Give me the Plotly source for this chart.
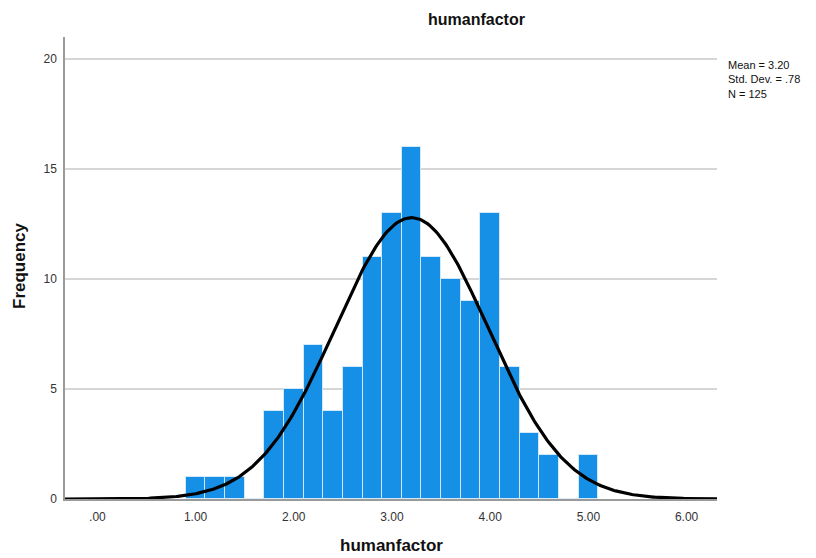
import numpy as np
import plotly.graph_objects as go

# Data
bin_centers = [1.0, 1.2, 1.4, 1.6, 1.8, 2.0, 2.2, 2.4, 2.6, 2.8, 3.0, 3.2, 3.4, 3.6, 3.8, 4.0, 4.2, 4.4, 4.6, 4.8, 5.0]
frequencies = [1, 1, 1, 0, 4, 5, 7, 4, 6, 11, 13, 16, 11, 10, 9, 13, 6, 3, 2, 0, 2]
bin_width = 0.2
mean_val = 3.20
sd_val = 0.78
n_val = 125
x_tick_vals = [0, 1, 2, 3, 4, 5, 6]
x_tick_text = [".00", "1.00", "2.00", "3.00", "4.00", "5.00", "6.00"]
y_tick_vals = [0, 5, 10, 15, 20]

x_range = [-0.33, 6.31]
xs = np.linspace(x_range[0], x_range[1], 400)
ys = n_val * bin_width / (sd_val * np.sqrt(2 * np.pi)) * np.exp(-0.5 * ((xs - mean_val) / sd_val) ** 2)

font_family = "Liberation Sans, Arial, sans-serif"

L, R, T, B = 65, 99, 37, 59
W, H = 816, 558
plot_w = W - L - R
plot_h = H - T - B

def px_x(p):
    return (p - L) / plot_w

def px_y(p):
    return (H - B - p) / plot_h

fig = go.Figure()
fig.add_trace(go.Bar(
    x=bin_centers, y=frequencies, width=bin_width,
    marker=dict(color="#1590e6", line=dict(color="rgba(220,235,250,0.9)", width=1)),
    hoverinfo="x+y",
))
fig.add_trace(go.Scatter(
    x=xs, y=ys, mode="lines", line=dict(color="black", width=3.2), hoverinfo="skip",
))

fig.update_layout(
    width=W, height=H,
    margin=dict(l=L, r=R, t=T, b=B, autoexpand=False),
    plot_bgcolor="white", paper_bgcolor="white",
    showlegend=False, bargap=0,
    font=dict(family=font_family, color="#222222", size=12),
    xaxis=dict(
        range=x_range, tickvals=x_tick_vals, ticktext=x_tick_text, automargin=False,
        showgrid=False, zeroline=False, showline=True, linecolor="#9a9a9a", linewidth=1.5,
        ticks="", tickfont=dict(size=12, color="#333333"), ticklabelstandoff=6,
    ),
    yaxis=dict(
        range=[0, 21], tickvals=y_tick_vals, automargin=False,
        showgrid=True, gridcolor="#d6d6d6", gridwidth=1.5, zeroline=False,
        showline=True, linecolor="#9a9a9a", linewidth=1.5,
        ticks="", tickfont=dict(size=12, color="#333333"), ticklabelstandoff=4,
    ),
)

# Chart title
fig.add_annotation(
    x=px_x(476), y=px_y(20), xref="paper", yref="paper", showarrow=False,
    xanchor="center", yanchor="middle",
    text="<b>humanfactor</b>", font=dict(size=16, color="#111111"),
)
# X axis title
fig.add_annotation(
    x=px_x(391), y=px_y(545), xref="paper", yref="paper", showarrow=False,
    xanchor="center", yanchor="middle",
    text="<b>humanfactor</b>", font=dict(size=17, color="#111111"),
)
# Y axis title
fig.add_annotation(
    x=px_x(19), y=px_y(266), xref="paper", yref="paper", showarrow=False,
    xanchor="center", yanchor="middle", textangle=-90,
    text="<b>Frequency</b>", font=dict(size=17, color="#111111"),
)
# Stats box
fig.add_annotation(
    x=px_x(726), y=px_y(57), xref="paper", yref="paper",
    xanchor="left", yanchor="top", align="left", showarrow=False,
    text=f"Mean = {mean_val:.2f}<br>Std. Dev. = .{int(round(sd_val*100))}<br>N = {n_val}",
    font=dict(size=11, color="#111111"),
)

fig.write_html("out.html")
